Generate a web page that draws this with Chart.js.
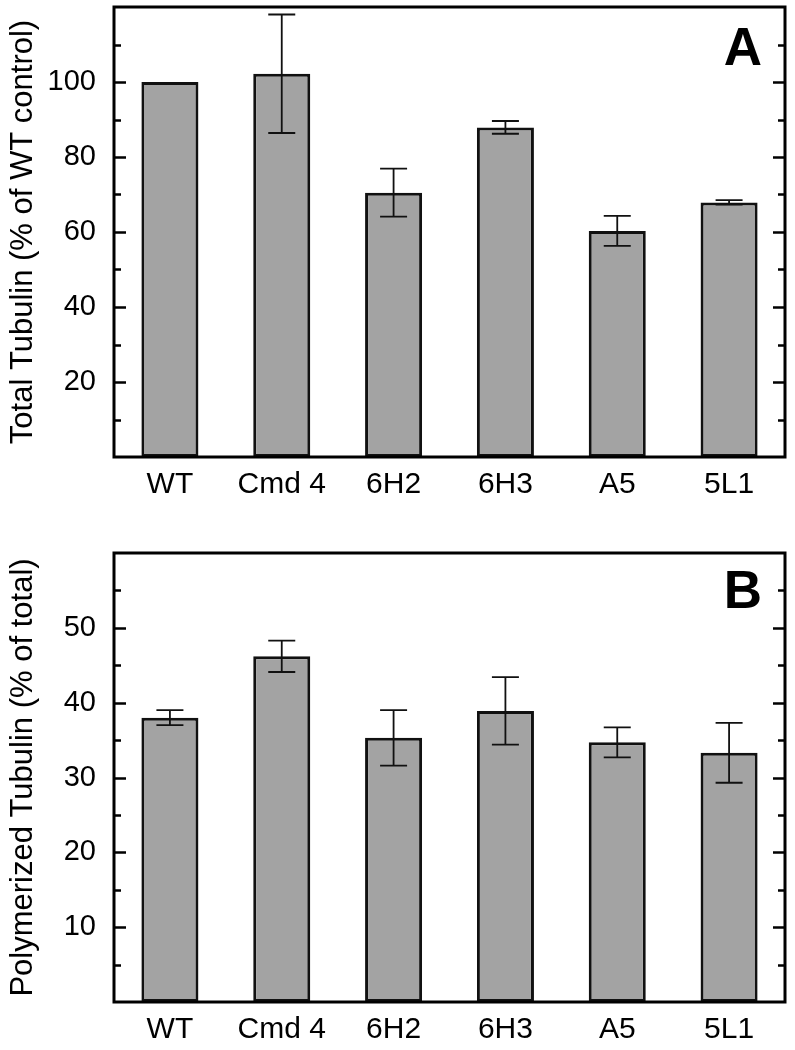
<!DOCTYPE html>
<html>
<head>
<meta charset="utf-8">
<script src="https://cdn.jsdelivr.net/npm/chart.js@4/dist/chart.umd.min.js"></script>
<style>
  body { margin: 0; background: #fff; }
  #wrapA { position: absolute; left: 0; top: 0; width: 795px; height: 505px; }
  #wrapB { position: absolute; left: 0; top: 505px; width: 795px; height: 545px; }
</style>
</head>
<body>
<div id="wrapA"><canvas id="chartA" width="795" height="505"></canvas></div>
<div id="wrapB"><canvas id="chartB" width="795" height="545"></canvas></div>
<script>
const strains = ['WT', 'Cmd 4', '6H2', '6H3', 'A5', '5L1']

// panel A: total tubulin, % of WT control
const totalTubulin = [100, 102.2, 70.5, 87.9, 60.3, 67.9]
const totalTubulinErr = [0, 15.8, 6.4, 1.7, 4.0, 0.6]
const totalTicks = [20, 40, 60, 80, 100]

// panel B: polymerized tubulin, % of total
const polymerized = [38.0, 46.2, 35.3, 38.9, 34.7, 33.3]
const polymerizedErr = [1.0, 2.1, 3.7, 4.5, 2.0, 4.0]
const polymerizedTicks = [10, 20, 30, 40, 50]

const fontFamily = '"Liberation Sans", Arial, Helvetica, sans-serif'

// frame round the plot with inward ticks on both sides
const framePlugin = {
  id: 'frame',
  afterDraw(chart, args, opts) {
    const ctx = chart.ctx
    const a = chart.chartArea
    const y = chart.scales.y
    ctx.save()
    ctx.strokeStyle = '#000'
    ctx.lineCap = 'butt'
    for (let v = opts.minor; v < y.max; v += opts.minor) {
      let len = (v % opts.major === 0) ? 12 : 7
      let py = Math.round(y.getPixelForValue(v)) + 0.5
      ctx.lineWidth = 2.5
      ctx.beginPath()
      ctx.moveTo(a.left, py)
      ctx.lineTo(a.left + len, py)
      ctx.moveTo(a.right, py)
      ctx.lineTo(a.right - len, py)
      ctx.stroke()
    }
    ctx.lineWidth = 3
    ctx.strokeRect(a.left, a.top, a.right - a.left, a.bottom - a.top)
    // panel letter
    ctx.fillStyle = '#000'
    ctx.font = 'bold 53px ' + fontFamily
    ctx.textAlign = 'right'
    ctx.textBaseline = 'alphabetic'
    ctx.fillText(opts.letter, a.right - 23, a.top + opts.letterY)
    ctx.restore()
  }
}

const errorBarPlugin = {
  id: 'errorBars',
  afterDatasetsDraw(chart, args, opts) {
    const ctx = chart.ctx
    const y = chart.scales.y
    const meta = chart.getDatasetMeta(0)
    const values = chart.data.datasets[0].data
    ctx.save()
    ctx.strokeStyle = '#111'
    ctx.lineWidth = 1.8
    meta.data.forEach((bar, i) => {
      let err = opts.errors[i]
      if (!err) return
      let top = y.getPixelForValue(values[i] + err)
      let bot = y.getPixelForValue(values[i] - err)
      ctx.beginPath()
      ctx.moveTo(bar.x, top)
      ctx.lineTo(bar.x, bot)
      ctx.moveTo(bar.x - 13.5, top)
      ctx.lineTo(bar.x + 13.5, top)
      ctx.moveTo(bar.x - 13.5, bot)
      ctx.lineTo(bar.x + 13.5, bot)
      ctx.stroke()
    })
    ctx.restore()
  }
}

function makeChart(id, values, errors, yMax, labelTicks, minor, title, letter, letterY, padTop) {
  return new Chart(document.getElementById(id), {
    type: 'bar',
    data: {
      labels: strains,
      datasets: [{
        data: values,
        backgroundColor: '#a3a3a3',
        borderColor: '#111',
        borderWidth: 3,
        borderSkipped: false,
        barPercentage: 0.51,
        categoryPercentage: 1
      }]
    },
    options: {
      responsive: false,
      animation: false,
      layout: { padding: { top: padTop, right: 10, left: 0, bottom: 0 } },
      plugins: {
        legend: { display: false },
        tooltip: { enabled: false },
        frame: { letter: letter, letterY: letterY, minor: minor, major: minor * 2 },
        errorBars: { errors: errors }
      },
      scales: {
        x: {
          grid: { display: false, drawTicks: false },
          border: { display: false },
          ticks: { color: '#000', padding: 10, font: { family: fontFamily, size: 30 } },
          afterFit(scale) {
            scale.height = 48
            scale.paddingLeft = 0
            scale.paddingRight = 0
          }
        },
        y: {
          min: 0,
          max: yMax,
          grid: { display: false, drawTicks: false },
          border: { display: false },
          ticks: { color: '#000', padding: 18, font: { family: fontFamily, size: 29 } },
          afterBuildTicks(scale) {
            scale.ticks = labelTicks.map(v => ({ value: v }))
          },
          afterFit(scale) {
            scale.width = 114
            scale.paddingTop = 0
            scale.paddingBottom = 0
          },
          title: {
            display: true,
            text: title,
            color: '#000',
            padding: { top: 5, bottom: 0 },
            font: { family: fontFamily, size: 31 }
          }
        }
      }
    },
    plugins: [errorBarPlugin, framePlugin]
  })
}

makeChart('chartA', totalTubulin, totalTubulinErr, 120, totalTicks, 10,
  'Total Tubulin (% of WT control)', 'A', 58, 7)
makeChart('chartB', polymerized, polymerizedErr, 60, polymerizedTicks, 5,
  'Polymerized Tubulin (% of total)', 'B', 55, 48)
</script>
</body>
</html>
